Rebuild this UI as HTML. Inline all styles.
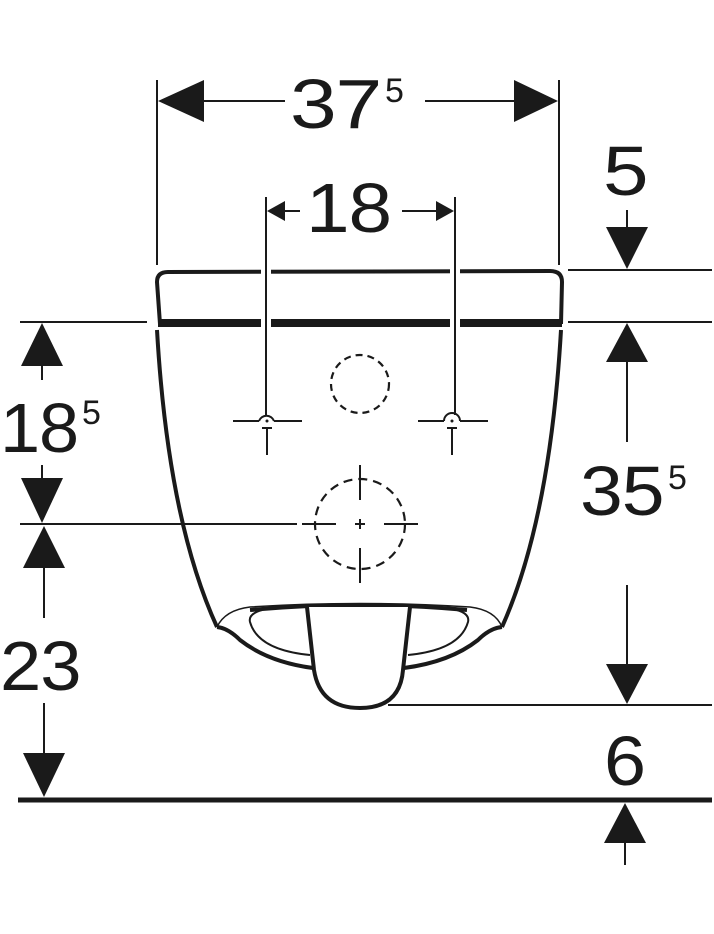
<!DOCTYPE html>
<html><head><meta charset="utf-8"><style>
html,body{margin:0;padding:0;background:#fff;}
svg{display:block}
text{font-family:"Liberation Sans",sans-serif;fill:#1a1a1a}
</style></head><body>
<svg width="714" height="934" viewBox="0 0 714 934" xmlns="http://www.w3.org/2000/svg">
<g stroke="#1a1a1a" fill="none" stroke-linecap="butt">
  <line x1="157" y1="80" x2="157" y2="265" stroke-width="2"/>
  <line x1="559" y1="80" x2="559" y2="265" stroke-width="2"/>
  <line x1="195" y1="101" x2="285" y2="101" stroke-width="2"/>
  <line x1="425" y1="101" x2="520" y2="101" stroke-width="2"/>
  <path d="M160,324 L157,282 Q157,272 168,272 L550,271 Q562,271 562,282 L561,324" stroke-width="4"/>
  <line x1="158" y1="323" x2="562" y2="323" stroke-width="8"/>
  <rect x="261" y="266" width="10" height="62" fill="#fff" stroke="none"/>
  <rect x="450" y="266" width="10" height="62" fill="#fff" stroke="none"/>
  <line x1="266" y1="197" x2="266" y2="415" stroke-width="2"/>
  <line x1="455" y1="197" x2="455" y2="415" stroke-width="2"/>
  <line x1="283" y1="211" x2="300" y2="211" stroke-width="2"/>
  <line x1="402" y1="211" x2="438" y2="211" stroke-width="2"/>
  <path d="M157,330 Q168,520 217,627" stroke-width="4"/>
  <path d="M561,330 Q550,520 502,627" stroke-width="4"/>
  <path d="M217,627 Q228,628 240,640 Q268,662 313,668" stroke-width="4"/>
  <path d="M502,627 Q490,628 478,640 Q450,662 404,668" stroke-width="4"/>
  <path d="M217,627 Q225,610 250,607 Q360,600 470,607 Q495,610 502,627" stroke-width="1.5"/>
  <path d="M250,610 Q360,600 467,610" stroke-width="4"/>
  <path d="M262,610 Q248,614 250,622 Q258,650 310,655" stroke-width="2"/>
  <path d="M457,610 Q470,614 468,622 Q460,650 408,655" stroke-width="2"/>
  <path d="M307,607 L314,670 Q320,708 360,708 Q400,708 403,670 L410,607" stroke-width="4" fill="#fff"/>
  <circle cx="360" cy="384" r="29" stroke-width="2.2" stroke-dasharray="7,5"/>
  <circle cx="360" cy="524" r="45" stroke-width="2.2" stroke-dasharray="9,6"/>
  <line x1="360" y1="465" x2="360" y2="500" stroke-width="2"/>
  <line x1="360" y1="548" x2="360" y2="583" stroke-width="2"/>
  <line x1="302" y1="524" x2="336" y2="524" stroke-width="2"/>
  <line x1="384" y1="524" x2="418" y2="524" stroke-width="2"/>
  <line x1="355" y1="524" x2="365" y2="524" stroke-width="2"/>
  <line x1="360" y1="519" x2="360" y2="529" stroke-width="2"/>
  <g stroke-width="2">
    <line x1="233" y1="421" x2="259" y2="421"/><line x1="274" y1="421" x2="302" y2="421"/>
    <path d="M259,421 A8,8 0 0 1 274,421"/>
    <line x1="267" y1="428" x2="267" y2="455"/><line x1="262" y1="428" x2="272" y2="428"/>
    <line x1="418" y1="421" x2="444" y2="421"/><line x1="460" y1="421" x2="488" y2="421"/>
    <path d="M444,421 A8,8 0 0 1 460,421"/>
    <line x1="452" y1="428" x2="452" y2="455"/><line x1="447" y1="428" x2="457" y2="428"/>
  </g>
  <circle cx="267" cy="421" r="1.5" fill="#1a1a1a" stroke="none"/>
  <circle cx="452" cy="421" r="1.5" fill="#1a1a1a" stroke="none"/>
  <line x1="20" y1="322" x2="147" y2="322" stroke-width="2"/>
  <line x1="20" y1="524" x2="297" y2="524" stroke-width="2"/>
  <line x1="568" y1="270" x2="712" y2="270" stroke-width="2"/>
  <line x1="568" y1="322" x2="712" y2="322" stroke-width="2"/>
  <line x1="388" y1="705" x2="712" y2="705" stroke-width="2"/>
  <line x1="18" y1="800" x2="712" y2="800" stroke-width="5"/>
  <line x1="42" y1="360" x2="42" y2="380" stroke-width="2"/>
  <line x1="42" y1="465" x2="42" y2="480" stroke-width="2"/>
  <line x1="44" y1="565" x2="44" y2="618" stroke-width="2"/>
  <line x1="44" y1="703" x2="44" y2="755" stroke-width="2"/>
  <line x1="627" y1="210" x2="627" y2="230" stroke-width="2"/>
  <line x1="627" y1="360" x2="627" y2="442" stroke-width="2"/>
  <line x1="627" y1="585" x2="627" y2="665" stroke-width="2"/>
  <line x1="625" y1="840" x2="625" y2="865" stroke-width="2"/>
</g>
<g fill="#1a1a1a">
  <polygon points="158,101 204,80 204,122"/>
  <polygon points="558,101 514,80 514,122"/>
  <polygon points="267,211 285,201 285,221"/>
  <polygon points="454,211 436,201 436,221"/>
  <polygon points="627,269 606,227 648,227"/>
  <polygon points="627,323 606,362 648,362"/>
  <polygon points="627,704 606,664 648,664"/>
  <polygon points="625,803 604,843 646,843"/>
  <polygon points="42,323 21,366 63,366"/>
  <polygon points="42,523 21,478 63,478"/>
  <polygon points="44,526 23,568 65,568"/>
  <polygon points="44,797 23,753 65,753"/>
</g>
<text font-size="70" transform="translate(290,128) scale(1.2,1)" letter-spacing="-1">37</text>
<text x="385" y="102" font-size="34">5</text>
<text font-size="70" transform="translate(306,232) scale(1.12,1)" letter-spacing="-1">18</text>
<text font-size="70" transform="translate(603,195) scale(1.17,1)">5</text>
<text font-size="70" transform="translate(0,452) scale(1.03,1)" letter-spacing="-1">18</text>
<text x="82" y="424" font-size="34">5</text>
<text font-size="70" transform="translate(0,690) scale(1.06,1)" letter-spacing="-1">23</text>
<text font-size="70" transform="translate(580,515) scale(1.1,1)" letter-spacing="-1">35</text>
<text x="668" y="489" font-size="34">5</text>
<text font-size="70" transform="translate(604,785) scale(1.08,1)">6</text>
</svg>
</body></html>
